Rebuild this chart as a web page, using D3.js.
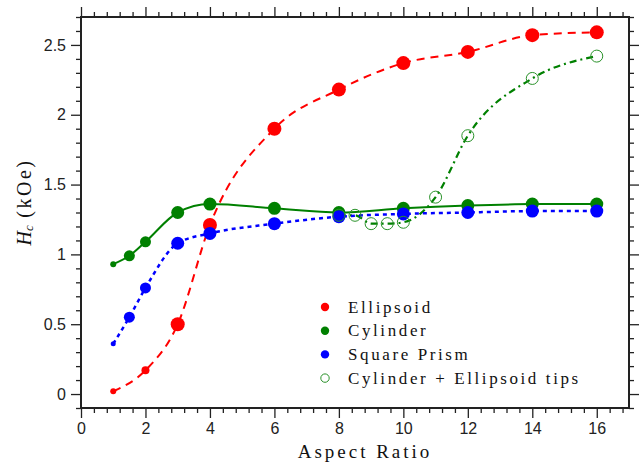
<!DOCTYPE html>
<html><head><meta charset="utf-8">
<script src="https://cdn.jsdelivr.net/npm/d3@7"></script>
<style>body{margin:0;background:#fff;} svg{display:block;}</style>
</head><body>
<svg id="c" width="644" height="467"></svg>
<script>
// ---- data ----
const ellipsoidX = [1, 2, 3, 4, 6, 8, 10, 12, 14, 16];
const ellipsoidY = [0.02, 0.17, 0.50, 1.21, 1.90, 2.18, 2.37, 2.45, 2.57, 2.59];
const ellipsoidR = [3, 4, 7, 7, 7, 7, 7, 7, 7, 7];

const cylinderX = [1, 1.5, 2, 3, 4, 6, 8, 10, 12, 14, 16];
const cylinderY = [0.93, 0.99, 1.09, 1.30, 1.36, 1.33, 1.30, 1.33, 1.35, 1.36, 1.36];
const cylinderR = [3, 5.5, 5.5, 6.5, 6.5, 6.5, 6.5, 6.5, 6.5, 6.5, 6.5];

const prismX = [1, 1.5, 2, 3, 4, 6, 8, 10, 12, 14, 16];
const prismY = [0.36, 0.55, 0.76, 1.08, 1.15, 1.22, 1.27, 1.29, 1.30, 1.31, 1.31];
const prismR = [2.5, 5.5, 5.5, 6.5, 6.5, 6.5, 6.5, 6.5, 6.5, 6.5, 6.5];

const tipsX = [8, 8.5, 9, 9.5, 10, 11, 12, 14, 16];
const tipsY = [1.28, 1.28, 1.22, 1.22, 1.23, 1.41, 1.85, 2.26, 2.42];

const xMajorTicks = [0, 2, 4, 6, 8, 10, 12, 14, 16];
const yMajorTicks = [0, 0.5, 1, 1.5, 2, 2.5];
const yTickLabels = ["0", "0.5", "1", "1.5", "2", "2.5"];
const legendLabels = ["Ellipsoid", "Cylinder", "Square Prism", "Cylinder + Ellipsoid tips"];

// ---- layout ----
const SERIF = '"Liberation Serif"';
const SANS = '"Liberation Sans"';
const L = 81, R = 629, T = 17, B = 408;
const svg = d3.select("#c");
const x = d3.scaleLinear().domain([0, 17]).range([L, R]);
const y = d3.scaleLinear().domain([-0.1, 2.7]).range([B, T]);

const xMinor = d3.range(0, 17.01, 0.4).filter(v => xMajorTicks.every(m => Math.abs(m - v) > 1e-6));
const yMinor = d3.range(-0.1, 2.701, 0.1).map(v => +v.toFixed(2)).filter(v => yMajorTicks.every(m => Math.abs(m - v) > 1e-6));

function ax(gen, pos, tr, minor, major, fmt) {
  const gm = svg.append("g").attr("transform", tr)
    .call(gen(pos).tickValues(minor).tickSize(5).tickFormat(""));
  const gM = svg.append("g").attr("transform", tr)
    .call(gen(pos).tickValues(major).tickSize(10).tickPadding(5).tickFormat(fmt));
  [gm, gM].forEach(g => {
    g.select(".domain").remove();
    g.selectAll("line").attr("stroke", "#222").attr("stroke-width", 1.3);
    g.selectAll("text").style("font-family", SANS).style("font-size", "16px").attr("fill", "#222");
  });
  return gM;
}
ax(d3.axisBottom, x, `translate(0,${B})`, xMinor, xMajorTicks, d => d);
ax(d3.axisTop, x, `translate(0,${T})`, xMinor, xMajorTicks, "");
ax(d3.axisLeft, y, `translate(${L},0)`, yMinor, yMajorTicks, (d, i) => yTickLabels[i]);
ax(d3.axisRight, y, `translate(${R},0)`, yMinor, yMajorTicks, "");

svg.append("rect").attr("x", L).attr("y", T).attr("width", R - L).attr("height", B - T)
  .attr("fill", "none").attr("stroke", "#222").attr("stroke-width", 2);

// ---- curves ----
svg.append("clipPath").attr("id", "cl").append("rect")
  .attr("x", L).attr("y", T).attr("width", R - L).attr("height", B - T);
const plot = svg.append("g").attr("clip-path", "url(#cl)");
const line = d3.line().x(d => x(d[0])).y(d => y(d[1])).curve(d3.curveMonotoneX);
function curve(xs, ys, color, dash, w) {
  plot.append("path").datum(xs.map((v, i) => [v, ys[i]]))
    .attr("d", line).attr("fill", "none").attr("stroke", color)
    .attr("stroke-width", w).attr("stroke-dasharray", dash);
}
curve(ellipsoidX, ellipsoidY, "#ff0000", "8,6", 2);
curve(tipsX, tipsY, "#008000", "7,4,2,4", 2.2);
curve(cylinderX, cylinderY, "#008000", null, 2);
curve(prismX, prismY, "#0000ff", "4,4", 2.5);

function dots(xs, ys, rs, color) {
  plot.selectAll(null).data(xs.map((v, i) => [v, ys[i], rs[i]])).enter().append("circle")
    .attr("cx", d => x(d[0])).attr("cy", d => y(d[1])).attr("r", d => d[2]).attr("fill", color);
}
dots(ellipsoidX, ellipsoidY, ellipsoidR, "#ff0000");
dots(cylinderX, cylinderY, cylinderR, "#008000");
dots(prismX, prismY, prismR, "#0000ff");
plot.selectAll(null).data(tipsX.map((v, i) => [v, tipsY[i]])).enter().append("circle")
  .attr("cx", d => x(d[0])).attr("cy", d => y(d[1])).attr("r", 6)
  .attr("fill", "none").attr("stroke", "#2a922a").attr("stroke-width", 1);

// ---- legend ----
const legColors = ["#ff0000", "#008000", "#0000ff", null];
const lg = svg.append("g");
legendLabels.forEach((t, i) => {
  const yy = 307 + i * 23.7;
  const c = lg.append("circle").attr("cx", 325).attr("cy", yy).attr("r", 4.2);
  if (legColors[i]) c.attr("fill", legColors[i]);
  else c.attr("fill", "none").attr("stroke", "#2a922a").attr("stroke-width", 1);
  lg.append("text").attr("x", 348).attr("y", yy + 5.5).text(t)
    .style("font-family", SERIF).style("font-size", "17px")
    .style("letter-spacing", "2.6px").attr("fill", "#111");
});

// ---- axis titles ----
svg.append("text").attr("x", 365).attr("y", 458).attr("text-anchor", "middle")
  .style("font-family", SERIF).style("font-size", "19px")
  .style("letter-spacing", "3px").attr("fill", "#111").text("Aspect Ratio");

const yt = svg.append("text").attr("transform", "translate(31,202) rotate(-90)")
  .attr("text-anchor", "middle").style("font-family", SERIF).style("font-size", "20px").attr("fill", "#111");
yt.append("tspan").style("font-style", "italic").text("H");
yt.append("tspan").style("font-style", "italic").style("font-size", "13px").attr("dy", 2).text("c");
yt.append("tspan").attr("dy", -2).style("letter-spacing", "2.5px").text(" (kOe)");
</script>
</body></html>
